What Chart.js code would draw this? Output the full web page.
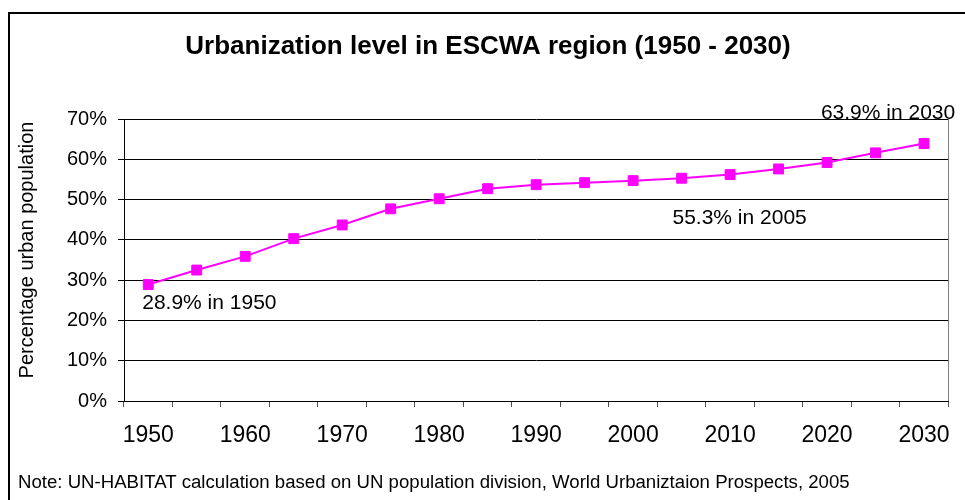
<!DOCTYPE html>
<html><head><meta charset="utf-8">
<script src="https://cdn.jsdelivr.net/npm/chart.js@4"></script>
<style>html,body{margin:0;padding:0;background:#fff}#wrap{width:965px;height:500px;position:relative}</style>
</head><body><div id="wrap"><canvas id="c" width="965" height="500"></canvas></div>
<script>
// ---- data ----
const years = ['1950','1955','1960','1965','1970','1975','1980','1985','1990','1995','2000','2005','2010','2015','2020','2025','2030'];
const urbanPct = [28.9, 32.5, 35.9, 40.3, 43.7, 47.7, 50.2, 52.7, 53.7, 54.2, 54.7, 55.3, 56.2, 57.6, 59.2, 61.6, 63.9];
const yTickValues = [0, 10, 20, 30, 40, 50, 60, 70];
const titleText = 'Urbanization level in ESCWA region (1950 - 2030)';
const yAxisTitle = 'Percentage urban population';
const noteText = 'Note: UN-HABITAT calculation based on UN population division, World Urbaniztaion Prospects, 2005';
const calloutIndex = [0, 11, 16];
const calloutText = ['28.9% in 1950', '55.3% in 2005', '63.9% in 2030'];

// ---- styles ----
const FONT = "'Liberation Sans', Arial, sans-serif";
const calloutStyle = [
  {align: 'left', dx: -6, dy: 24},
  {align: 'center', dx: 58, dy: 46},
  {align: 'center', dx: -36, dy: -25}
];

const decor = {
  id: 'decor',
  afterDraw(chart) {
    const ctx = chart.ctx;
    ctx.save();
    // outer frame
    ctx.strokeStyle = '#000';
    ctx.lineWidth = 2;
    ctx.beginPath();
    ctx.moveTo(9, 500); ctx.lineTo(9, 13); ctx.lineTo(965, 13);
    ctx.stroke();
    ctx.fillStyle = '#000';
    // title
    ctx.font = 'bold 26px ' + FONT;
    ctx.textAlign = 'center';
    ctx.textBaseline = 'alphabetic';
    ctx.fillText(titleText, 488, 54);
    // y axis title
    ctx.save();
    ctx.translate(33, 250);
    ctx.rotate(-Math.PI / 2);
    ctx.font = '20px ' + FONT;
    ctx.fillText(yAxisTitle, 0, 0);
    ctx.restore();
    // callouts
    const xs = chart.scales.x, ys = chart.scales.y;
    ctx.font = '21px ' + FONT;
    calloutIndex.forEach((idx, k) => {
      const st = calloutStyle[k];
      const px = xs.getPixelForValue(idx);
      const py = ys.getPixelForValue(urbanPct[idx]);
      ctx.textAlign = st.align;
      ctx.fillText(calloutText[k], px + st.dx, py + st.dy);
    });
    // note
    let fs = 16;
    ctx.font = fs + 'px ' + FONT;
    const w = ctx.measureText(noteText).width;
    fs = fs * 832 / w;
    ctx.font = fs.toFixed(2) + 'px ' + FONT;
    ctx.textAlign = 'left';
    ctx.fillText(noteText, 18, 488);
    ctx.restore();
  }
};

new Chart(document.getElementById('c'), {
  type: 'line',
  data: {
    labels: years,
    datasets: [{
      data: urbanPct,
      borderColor: '#FF00FF',
      backgroundColor: '#FF00FF',
      borderWidth: 2,
      pointStyle: 'rect',
      pointRadius: 7,
      pointBorderWidth: 1,
      pointBackgroundColor: '#FF00FF',
      pointBorderColor: '#FF00FF',
      tension: 0,
      fill: false
    }]
  },
  options: {
    responsive: false,
    animation: false,
    devicePixelRatio: 1,
    layout: {padding: {top: 119, left: 0, right: 13, bottom: 39}},
    plugins: {legend: {display: false}, title: {display: false}, tooltip: {enabled: false}},
    scales: {
      x: {
        type: 'category',
        offset: true,
        afterFit(s) { s.height = 60; },
        grid: {
          offset: true,
          drawOnChartArea: true,
          color: c => c.type === 'scale' ? '#808080' : 'rgba(0,0,0,0)',
          tickColor: '#555',
          tickLength: 6,
          lineWidth: 1
        },
        border: {display: true, color: '#000', width: 1},
        ticks: {
          autoSkip: false,
          maxRotation: 0,
          minRotation: 0,
          padding: 15,
          color: '#000',
          font: {family: FONT, size: 23},
          callback: (v, i) => (i % 2 === 0 ? years[i] : '')
        }
      },
      y: {
        min: yTickValues[0],
        max: yTickValues[yTickValues.length - 1],
        afterFit(s) { s.width = 124; },
        afterBuildTicks(s) { s.ticks = yTickValues.map(v => ({value: v})); },
        grid: {color: '#000', lineWidth: 1, tickLength: 6, drawTicks: true},
        border: {display: true, color: '#000', width: 1},
        ticks: {
          padding: 11,
          color: '#000',
          font: {family: FONT, size: 20},
          callback: v => v + '%'
        }
      }
    }
  },
  plugins: [decor]
});
</script>
</body></html>
